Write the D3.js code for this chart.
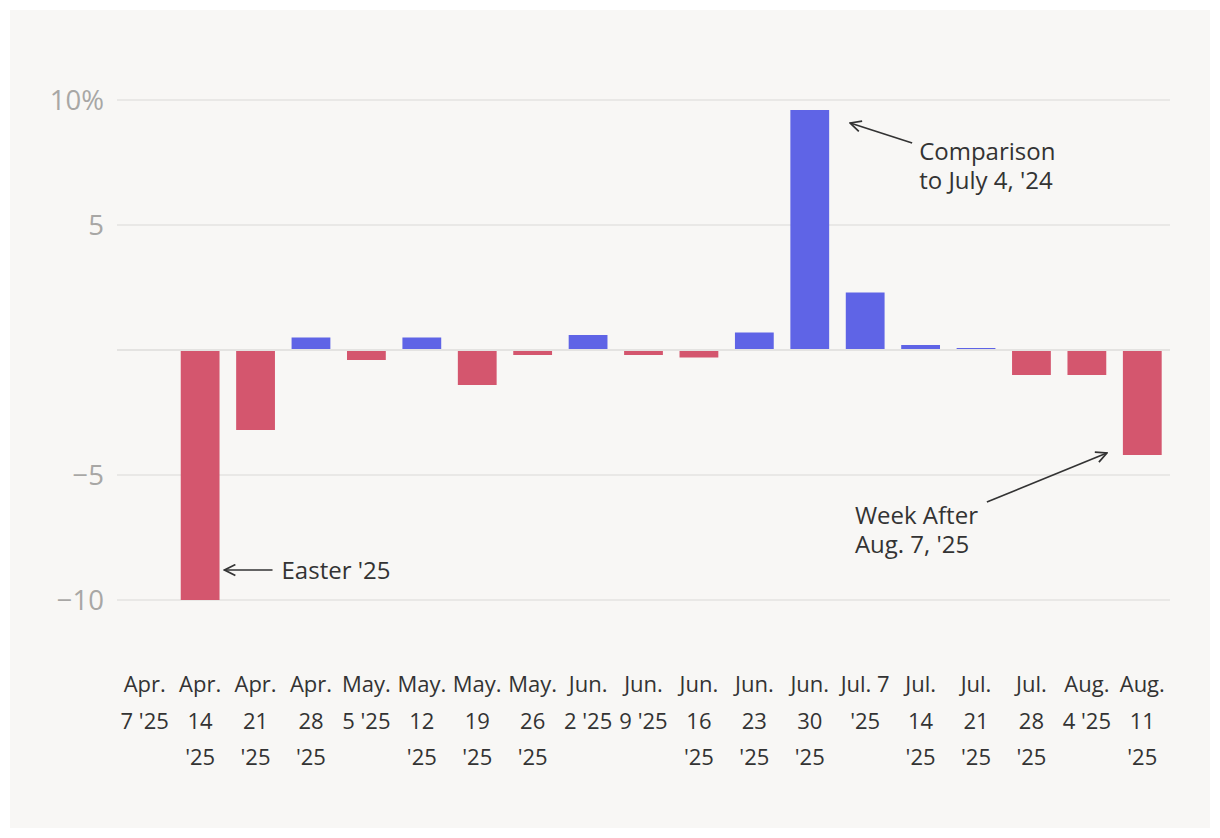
<!DOCTYPE html>
<html><head><meta charset="utf-8">
<script src="https://cdn.jsdelivr.net/npm/d3@7"></script>
<style>
html,body{margin:0;padding:0;background:#fff;}
svg{display:block;font-family:"Open Sans",sans-serif;}
</style></head>
<body>
<svg id="c" width="1220" height="838"></svg>
<script>
const categories = ["Apr. 7 '25","Apr. 14 '25","Apr. 21 '25","Apr. 28 '25","May. 5 '25","May. 12 '25","May. 19 '25","May. 26 '25","Jun. 2 '25","Jun. 9 '25","Jun. 16 '25","Jun. 23 '25","Jun. 30 '25","Jul. 7 '25","Jul. 14 '25","Jul. 21 '25","Jul. 28 '25","Aug. 4 '25","Aug. 11 '25"];
const values = [0, -10.0, -3.2, 0.5, -0.4, 0.5, -1.4, -0.2, 0.6, -0.2, -0.3, 0.7, 9.6, 2.3, 0.2, 0.08, -1.0, -1.0, -4.2];
const yTicks = [-10, -5, 0, 5, 10];
const yTickLabels = ["\u221210", "\u22125", "", "5", "10%"];
const annotations = [
  {cat:"Jun. 30 '25", lines:["Comparison","to July 4, '24"]},
  {cat:"Apr. 14 '25", lines:["Easter '25"]},
  {cat:"Aug. 11 '25", lines:["Week After","Aug. 7, '25"]}
];

const svg = d3.select("#c");
svg.append("rect").attr("x",10).attr("y",10).attr("width",1200).attr("height",818).attr("fill","#f8f7f5");

const x = d3.scaleBand().domain(categories).range([117,1170]).paddingInner(0.3).paddingOuter(0.15);
const y = d3.scaleLinear().domain([-10,10]).range([600,100]);

// grid
svg.append("g").selectAll("line").data(yTicks).join("line")
  .attr("x1",117).attr("x2",1170).attr("y1",d=>y(d)).attr("y2",d=>y(d))
  .attr("stroke","#e4e3e1").attr("stroke-width",d=>d===0?2:1.5);

// y labels
svg.append("g").selectAll("text").data(yTicks).join("text")
  .attr("x",104).attr("y",d=>y(d)).attr("dy","0.35em").attr("text-anchor","end")
  .attr("font-size",27.5).attr("fill","#a8a7a5").text((d,i)=>yTickLabels[i]);

// bars
svg.append("g").selectAll("rect").data(values).join("rect")
  .attr("x",(d,i)=>x(categories[i])).attr("width",x.bandwidth())
  .attr("y",d=>d>=0?y(d):y(0)+1).attr("height",d=>d>=0?Math.max(0,y(0)-1-y(d)):Math.max(0,y(d)-y(0)-1))
  .attr("fill",d=>d>=0?"#5f64e6":"#d4566e");

// x labels with wrapping
const xl = svg.append("g");
categories.forEach(c=>{
  const cx = x(c)+x.bandwidth()/2;
  const t = xl.append("text").attr("font-size",22).attr("fill","#333").attr("text-anchor","middle");
  const words = c.split(" ");
  let lines=[], cur=words[0];
  const probe = svg.append("text").attr("font-size",22).attr("font-family","Open Sans");
  for(let k=1;k<words.length;k++){
    probe.text(cur+" "+words[k]);
    if(probe.node().getComputedTextLength()>53){lines.push(cur);cur=words[k];}
    else cur=cur+" "+words[k];
  }
  lines.push(cur); probe.remove();
  lines.forEach((l,j)=>t.append("tspan").attr("x",cx).attr("y",692+j*36.5).text(l));
});

// annotations
const defs = svg.append("defs");
defs.append("marker").attr("id","ah").attr("viewBox","0 0 12 12").attr("refX",11).attr("refY",6)
  .attr("markerWidth",13).attr("markerHeight",13).attr("markerUnits","userSpaceOnUse").attr("orient","auto")
  .append("path").attr("d","M1,1 L11,6 L1,11").attr("fill","none").attr("stroke","#333").attr("stroke-width",1.6);

function arrow(x1,y1,x2,y2){
  svg.append("line").attr("x1",x1).attr("y1",y1).attr("x2",x2).attr("y2",y2)
    .attr("stroke","#333").attr("stroke-width",1.7).attr("marker-end","url(#ah)");
}
function label(tx,ty,lines){
  const t = svg.append("text").attr("font-size",24).attr("fill","#333");
  lines.forEach((l,j)=>t.append("tspan").attr("x",tx).attr("y",ty+j*29).text(l));
}
// Jun 30
{
  const a=annotations[0], i=categories.indexOf(a.cat), v=values[i];
  const xr = x(a.cat)+x.bandwidth();
  arrow(xr+83, y(v)+33, xr+21, y(v)+13);
  label(xr+90, y(v)+50, a.lines);
}
// Easter
{
  const a=annotations[1], i=categories.indexOf(a.cat), v=values[i];
  const xr = x(a.cat)+x.bandwidth();
  arrow(xr+53, y(v)-30, xr+5, y(v)-30);
  label(xr+62, y(v)-21, a.lines);
}
// Aug 11
{
  const a=annotations[2], i=categories.indexOf(a.cat), v=values[i];
  const xl0 = x(a.cat);
  arrow(xl0-136, y(v)+47, xl0-16, y(v)-2);
  label(xl0-268, y(v)+69, a.lines);
}
</script>
</body></html>
